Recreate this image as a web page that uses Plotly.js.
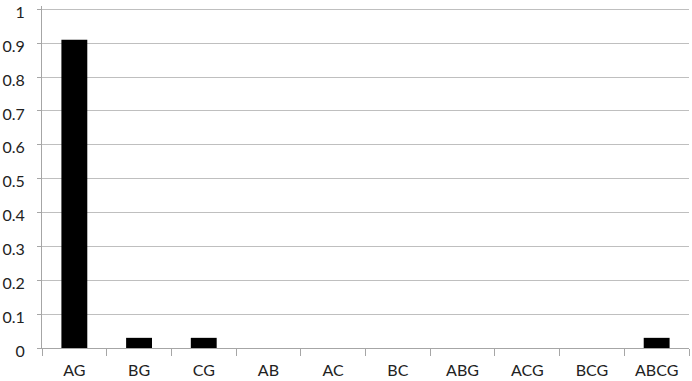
<!DOCTYPE html>
<html>
<head>
<meta charset="utf-8">
<script src="https://cdn.plot.ly/plotly-3.0.1.min.js"></script>
<style>html,body{margin:0;padding:0;background:#fff;}#chart{width:692px;height:381px;}</style>
</head>
<body>
<div id="chart"></div>
<script>
const categories = ["AG", "BG", "CG", "AB", "AC", "BC", "ABG", "ACG", "BCG", "ABCG"];
const values = [0.91, 0.03, 0.03, 0, 0, 0, 0, 0, 0, 0.03];
const yTicks = [0, 0.1, 0.2, 0.3, 0.4, 0.5, 0.6, 0.7, 0.8, 0.9, 1];
const yTickLabels = ["0", "0.1", "0.2", "0.3", "0.4", "0.5", "0.6", "0.7", "0.8", "0.9", "1"];

Plotly.newPlot("chart", [{
  type: "bar",
  x: categories,
  y: values,
  marker: {color: "#000000", line: {width: 0}},
  width: 0.4,
  hoverinfo: "x+y"
}], {
  width: 692, height: 381,
  margin: {l: 42, r: 3, t: 6, b: 33},
  paper_bgcolor: "#ffffff",
  plot_bgcolor: "#ffffff",
  font: {family: "Lato, 'Open Sans', sans-serif", size: 16, color: "#222"},
  showlegend: false,
  bargap: 0.6,
  xaxis: {
    type: "category",
    showline: true, linecolor: "#a6a6a6", linewidth: 1,
    ticks: "outside", tickson: "boundaries", ticklen: 7, tickcolor: "#a6a6a6",
    ticklabelstandoff: 8,
    showgrid: false, zeroline: false,
    tickfont: {size: 16}
  },
  yaxis: {
    range: [0, 1.01],
    tickvals: yTicks, ticktext: yTickLabels,
    showline: true, linecolor: "#a6a6a6", linewidth: 1,
    ticks: "outside", ticklen: 4, tickcolor: "#a6a6a6",
    ticklabelstandoff: 9,
    ticklabelshift: 3,
    ticklabeloverflow: "allow",
    showgrid: true, gridcolor: "#bfbfbf", gridwidth: 1,
    zeroline: false,
    tickfont: {size: 16}
  }
}, {displayModeBar: false, staticPlot: true});
</script>
</body>
</html>
